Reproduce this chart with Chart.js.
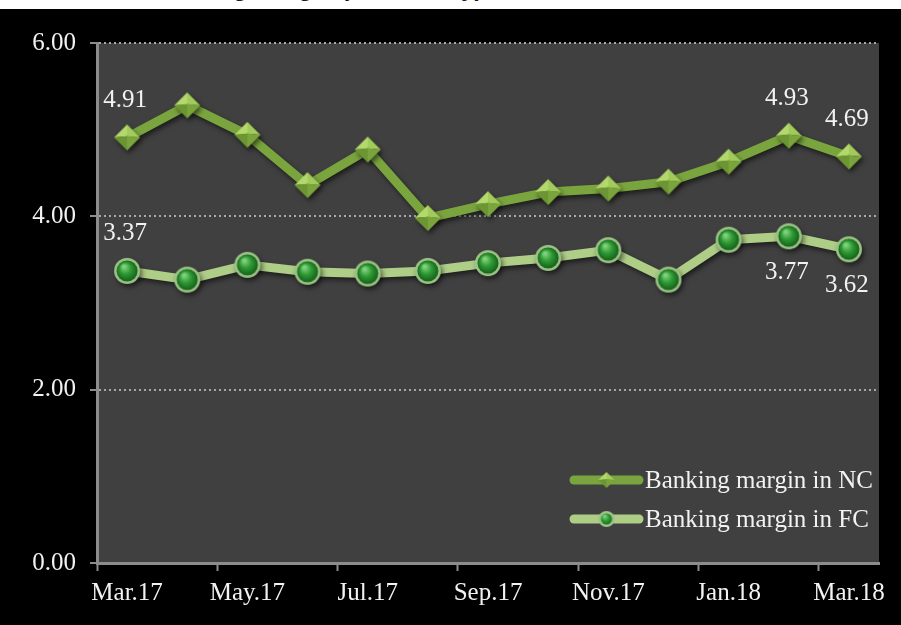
<!DOCTYPE html>
<html>
<head>
<meta charset="utf-8">
<script src="https://cdn.jsdelivr.net/npm/chart.js@4.4.1/dist/chart.umd.min.js"></script>
<style>
  html, body { margin: 0; padding: 0; background: #000; }
  #wrap { position: relative; width: 901px; height: 625px; overflow: hidden; }
  #strip { position: absolute; left: 0; top: 0; width: 901px; height: 9px; background: #fff; overflow: hidden; z-index: 2; }
  #title { position: absolute; left: 153px; top: -24px; font: bold 24px "Liberation Sans", Arial, sans-serif; line-height: 24px; color: #1a1a1a; white-space: nowrap; }
  canvas { position: absolute; left: 0; top: 0; }
</style>
</head>
<body>
<div id="wrap">
  <div id="strip"><span id="title">Banking margin (% annually)</span></div>
  <canvas id="chart" width="901" height="625"></canvas>
</div>
<script>
const months = ["Mar.17", "Apr.17", "May.17", "Jun.17", "Jul.17", "Aug.17", "Sep.17",
                "Oct.17", "Nov.17", "Dec.17", "Jan.18", "Feb.18", "Mar.18"];
const marginNC = [4.91, 5.28, 4.94, 4.36, 4.77, 3.98, 4.14, 4.28, 4.32, 4.40, 4.63, 4.93, 4.69];
const marginFC = [3.37, 3.27, 3.44, 3.36, 3.34, 3.37, 3.46, 3.52, 3.61, 3.27, 3.73, 3.77, 3.62];
const yTicks = [0, 2, 4, 6];
const seriesNames = ["Banking margin in NC", "Banking margin in FC"];
// which points carry a value label
const labelledNC = [0, 11, 12];
const labelledFC = [0, 11, 12];

const SERIF = '"Liberation Serif", "Times New Roman", serif';
const FONT_SIZE = 25;
const TEXT = "#f2f2f2";
const AXIS = "#8c8c8c";
const NC_LINE = "#7aa53e";
const FC_LINE = "#aecd86";

// little 3d-ish markers drawn once on offscreen canvases
function diamondImg(r) {
  const c = document.createElement("canvas");
  c.width = c.height = 2 * r + 2;
  const g = c.getContext("2d");
  const m = r + 1;
  const top = [m, m - r], right = [m + r, m], bottom = [m, m + r], left = [m - r, m], mid = [m, m - r * 0.1];
  const tri = (a, b, col) => {
    g.beginPath();
    g.moveTo(a[0], a[1]); g.lineTo(b[0], b[1]); g.lineTo(mid[0], mid[1]);
    g.closePath(); g.fillStyle = col; g.fill();
  };
  tri(left, top, "#b3d86c");
  tri(top, right, "#a2cb5c");
  tri(right, bottom, "#7ba53c");
  tri(bottom, left, "#6c9533");
  return c;
}

function sphereImg(r) {
  const c = document.createElement("canvas");
  c.width = c.height = 2 * r + 2;
  const g = c.getContext("2d");
  const m = r + 1;
  g.beginPath(); g.arc(m, m, r, 0, Math.PI * 2);
  g.fillStyle = "#9cc486"; g.fill();
  const rad = g.createRadialGradient(m - r * 0.25, m - r * 0.35, r * 0.1, m, m, r * 0.85);
  rad.addColorStop(0, "#7fd17a");
  rad.addColorStop(0.45, "#2f9a35");
  rad.addColorStop(1, "#145c18");
  g.beginPath(); g.arc(m, m, r - 2.5, 0, Math.PI * 2);
  g.fillStyle = rad; g.fill();
  return c;
}

const ncMarker = diamondImg(13);
const fcMarker = sphereImg(13);
const ncLegendMarker = diamondImg(8);
const fcLegendMarker = sphereImg(8);

const plotBackground = {
  id: "plotBackground",
  beforeDraw(chart) {
    const { ctx, chartArea: a } = chart;
    ctx.save();
    ctx.fillStyle = "#404040";
    ctx.fillRect(a.left, a.top, a.right - a.left, a.bottom - a.top);
    ctx.restore();
  }
};

const lineShadow = {
  id: "lineShadow",
  beforeDatasetDraw(chart) {
    const ctx = chart.ctx;
    ctx.save();
    ctx.shadowColor = "rgba(0,0,0,0.55)";
    ctx.shadowBlur = 5;
    ctx.shadowOffsetX = 2;
    ctx.shadowOffsetY = 3;
  },
  afterDatasetDraw(chart) {
    chart.ctx.restore();
  }
};

const valueLabels = {
  id: "valueLabels",
  afterDatasetsDraw(chart) {
    const ctx = chart.ctx;
    ctx.save();
    ctx.font = FONT_SIZE + "px " + SERIF;
    ctx.fillStyle = TEXT;
    ctx.textAlign = "center";
    ctx.textBaseline = "middle";
    const put = (dsIndex, idx, above) => {
      const pt = chart.getDatasetMeta(dsIndex).data[idx];
      const v = chart.data.datasets[dsIndex].data[idx];
      ctx.fillText(v.toFixed(2), pt.x - 2, pt.y + (above ? -37 : 36));
    };
    labelledNC.forEach(i => put(0, i, true));
    labelledFC.forEach(i => put(1, i, i === 0));
    ctx.restore();
  }
};

const lineLegend = {
  id: "lineLegend",
  afterDraw(chart) {
    const { ctx, chartArea: a } = chart;
    const x0 = a.right - 305, x1 = a.right - 240;
    const rows = [
      { y: a.bottom - 83, color: NC_LINE, marker: ncLegendMarker },
      { y: a.bottom - 44, color: FC_LINE, marker: fcLegendMarker }
    ];
    ctx.save();
    ctx.font = FONT_SIZE + "px " + SERIF;
    ctx.textBaseline = "middle";
    ctx.textAlign = "left";
    rows.forEach((row, i) => {
      ctx.strokeStyle = row.color;
      ctx.lineWidth = 9;
      ctx.lineCap = "round";
      ctx.beginPath(); ctx.moveTo(x0, row.y); ctx.lineTo(x1, row.y); ctx.stroke();
      const mx = (x0 + x1) / 2;
      ctx.drawImage(row.marker, mx - row.marker.width / 2, row.y - row.marker.height / 2);
      ctx.fillStyle = TEXT;
      ctx.fillText(seriesNames[i], x1 + 6, row.y + 1);
    });
    ctx.restore();
  }
};

new Chart(document.getElementById("chart"), {
  type: "line",
  data: {
    labels: months,
    datasets: [
      {
        label: seriesNames[0],
        data: marginNC,
        borderColor: NC_LINE,
        borderWidth: 9,
        borderJoinStyle: "round",
        tension: 0,
        pointStyle: ncMarker,
        pointRadius: 13,
        pointHoverRadius: 13
      },
      {
        label: seriesNames[1],
        data: marginFC,
        borderColor: FC_LINE,
        borderWidth: 9,
        borderJoinStyle: "round",
        tension: 0,
        pointStyle: fcMarker,
        pointRadius: 13,
        pointHoverRadius: 13
      }
    ]
  },
  options: {
    responsive: false,
    animation: false,
    layout: { padding: { top: 43, right: 19, left: 0, bottom: 0 } },
    plugins: {
      legend: { display: false },
      tooltip: { enabled: false }
    },
    scales: {
      x: {
        type: "category",
        offset: true,
        grid: {
          offset: true,
          drawOnChartArea: false,
          tickLength: 8,
          tickWidth: 2,
          color: (c) => (c.index % 2 === 0 ? AXIS : "rgba(0,0,0,0)"),
          tickColor: (c) => (c.index % 2 === 0 ? AXIS : "rgba(0,0,0,0)")
        },
        border: { display: true, color: AXIS, width: 3 },
        ticks: {
          autoSkip: false,
          maxRotation: 0,
          color: TEXT,
          padding: 7,
          font: { family: SERIF, size: FONT_SIZE },
          callback: function (v, i) { return i % 2 === 0 ? this.getLabelForValue(v) : ""; }
        },
        afterFit: (s) => { s.height = 62; }
      },
      y: {
        min: 0,
        max: 6,
        afterBuildTicks: (s) => { s.ticks = yTicks.map(v => ({ value: v })); },
        grid: {
          lineWidth: 2,
          color: (c) => (c.tick && c.tick.value === 0 ? "rgba(0,0,0,0)" : "#a8a8a8"),
          tickColor: AXIS,
          tickLength: 7,
          tickWidth: 2
        },
        border: { display: true, color: AXIS, width: 3, dash: [2, 3] },
        ticks: {
          color: TEXT,
          padding: 14,
          font: { family: SERIF, size: FONT_SIZE },
          callback: (v) => Number(v).toFixed(2)
        },
        afterFit: (s) => { s.width = 97; }
      }
    }
  },
  plugins: [plotBackground, lineShadow, valueLabels, lineLegend]
});
</script>
</body>
</html>
